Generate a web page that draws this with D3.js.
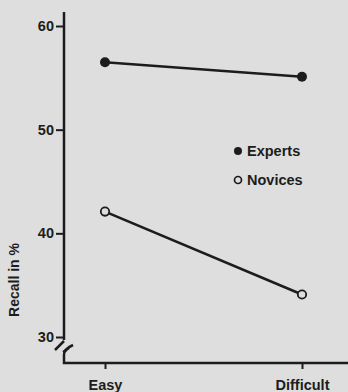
<!DOCTYPE html>
<html><head><meta charset="utf-8">
<script src="https://cdn.jsdelivr.net/npm/d3@7"></script>
<style>
html,body{margin:0;padding:0;background:#dedede;}
svg{display:block;}
text{font-family:"Liberation Sans",Arial,sans-serif;font-weight:bold;fill:#1c1c1c;}
</style></head>
<body><svg id="c" width="348" height="392"></svg>
<script>
const categories = ["Easy", "Difficult"];
const seriesNames = ["Experts", "Novices"];
const expertsValues = [56.5, 55.1];
const novicesValues = [42.1, 34.1];
const yTicks = [30, 40, 50, 60];
const yLabel = "Recall in %";

const ink = "#1c1c1c", bg = "#dedede";
const fs = 14.5;
const svg = d3.select("#c");
svg.append("rect").attr("width",348).attr("height",392).attr("fill",bg);

const x = d3.scalePoint().domain(categories).range([105, 302]);
const y = d3.scaleLinear().domain([30, 60]).range([337, 26]);
const axisX = 64, baseY = 363, topY = 12;

// Y axis ticks + labels
const gy = svg.append("g").attr("transform", `translate(${axisX},0)`)
  .call(d3.axisLeft(y).tickValues(yTicks).tickSize(8).tickSizeOuter(0).tickPadding(2));
gy.select(".domain").remove();
gy.selectAll(".tick line").attr("stroke", ink).attr("stroke-width", 2);
gy.selectAll(".tick text").attr("font-size", fs).attr("fill", ink).attr("font-weight","bold");

// X axis ticks + labels
const gx = svg.append("g").attr("transform", `translate(0,${baseY})`)
  .call(d3.axisBottom(x).tickSize(6).tickSizeOuter(0).tickPadding(11));
gx.select(".domain").remove();
gx.selectAll(".tick line").attr("stroke", ink).attr("stroke-width", 2);
gx.selectAll(".tick text").attr("font-size", fs).attr("fill", ink).attr("font-weight","bold");

// Axis lines with break
svg.append("path").attr("d", `M${axisX},${topY}V340`).attr("stroke", ink).attr("stroke-width", 2.5).attr("fill","none");
svg.append("path").attr("d", `M55,350L${axisX},341`).attr("stroke", ink).attr("stroke-width", 2.5).attr("fill","none");
svg.append("path").attr("d", `M73,345Q${axisX},349 ${axisX},355V${baseY}H348`).attr("stroke", ink).attr("stroke-width", 2.5).attr("fill","none");
svg.append("path").attr("d", `M${axisX-1},352L${axisX+5},348`).attr("stroke", ink).attr("stroke-width", 2.2).attr("fill","none");

// Y label
svg.append("text").attr("transform", `translate(19,${280}) rotate(-90)`)
  .attr("text-anchor","middle").attr("font-size",fs-0.5).text(yLabel);

// Series
const series = [
  {name: seriesNames[0], values: expertsValues, filled: true},
  {name: seriesNames[1], values: novicesValues, filled: false}
];
const line = d3.line().x((d,i)=>x(categories[i])).y(d=>y(d));
series.forEach(s => {
  svg.append("path").attr("d", line(s.values)).attr("stroke", ink).attr("stroke-width", 2.5).attr("fill","none");
  svg.selectAll(null).data(s.values).enter().append("circle")
    .attr("cx",(d,i)=>x(categories[i])).attr("cy",d=>y(d))
    .attr("r", s.filled ? 5 : 4.2)
    .attr("fill", s.filled ? ink : bg)
    .attr("stroke", ink).attr("stroke-width", s.filled ? 0 : 1.8);
});

// Legend
const leg = svg.append("g");
series.forEach((s,i) => {
  const ly = 151 + i*29;
  leg.append("circle").attr("cx",238).attr("cy",ly).attr("r", s.filled ? 4 : 3.5)
    .attr("fill", s.filled ? ink : bg).attr("stroke", ink).attr("stroke-width", s.filled?0:1.7);
  leg.append("text").attr("x",247).attr("y",ly+5).attr("font-size",fs).text(s.name);
});
</script></body></html>
